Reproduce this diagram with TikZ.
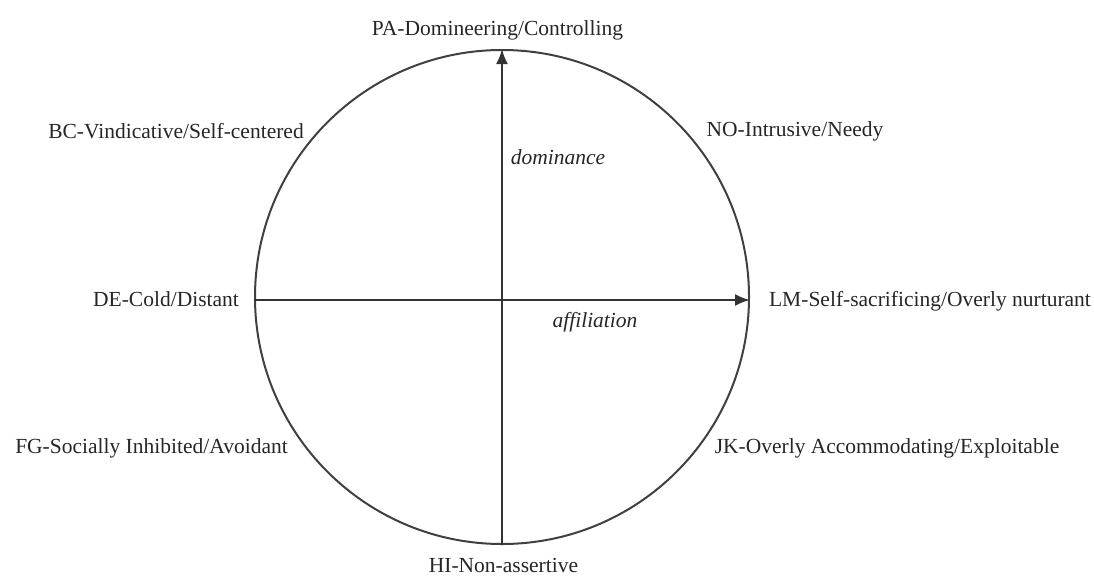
\documentclass[tikz,border=0pt]{standalone}
\usepackage{fontspec}
\setmainfont{Liberation Serif}
\usetikzlibrary{arrows.meta}
\begin{document}
\begin{tikzpicture}[x=1pt,y=-1pt,
  lbl/.style={inner sep=0pt, text=black!85, font=\fontsize{21.5}{24}\selectfont},
  axislbl/.style={lbl, font=\fontsize{21.5}{24}\selectfont\itshape},
  ring/.style={circle, draw=black!75, line width=2pt, minimum size=494pt, inner sep=0pt},
  axis/.style={draw=black!80, line width=2.2pt, -{Latex[length=15pt,width=12pt]}}]
\useasboundingbox (0,0) rectangle (1094,576);
\node[ring] (c) at (502,297) {};
\draw[axis] (c.south) -- (c.north);
\draw[axis] ([yshift=-3pt]c.west) -- ([yshift=-3pt]c.east);
\node[lbl] (pa) at (497.5,30) {PA-Domineering/Controlling};
\node[lbl] (bc) at (176,131) {BC-Vindicative/Self-centered};
\node[lbl] (no) at (795,131) {NO-Intrusive/Needy};
\node[lbl] (de) at (166,299) {DE-Cold/Distant};
\node[lbl] (lm) at (930,301) {LM-Self-sacrificing/Overly nurturant};
\node[lbl] (fg) at (151.5,448) {FG-Socially Inhibited/Avoidant};
\node[lbl] (jk) at (887,448) {JK-Overly Accommodating/Exploitable};
\node[lbl] (hi) at (503.5,565) {HI-Non-assertive};
\node[axislbl] (dom) at (558,157) {dominance};
\node[axislbl] (aff) at (595,322) {affiliation};
\end{tikzpicture}
\end{document}
